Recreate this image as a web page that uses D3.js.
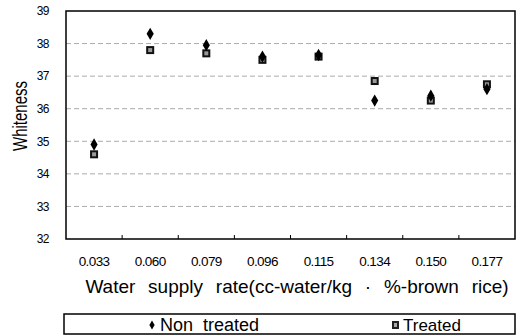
<!DOCTYPE html>
<html>
<head>
<meta charset="utf-8">
<style>
  body { margin: 0; background: #fff; }
  svg text { font-family: Arial, "Liberation Sans", sans-serif; fill: #000; }
  .grid line { stroke: #aaa; stroke-dasharray: 5,3; stroke-width: 1; }
</style>
</head>
<body>
<script src="https://d3js.org/d3.v7.min.js"></script>
<script>
var rates = ["0.033", "0.060", "0.079", "0.096", "0.115", "0.134", "0.150", "0.177"];
var nonTreated = [34.9, 38.3, 37.95, 37.6, 37.65, 36.25, 36.4, 36.6];
var treated = [34.6, 37.8, 37.7, 37.5, 37.6, 36.85, 36.25, 36.75];
var yTicks = [32, 33, 34, 35, 36, 37, 38, 39];

var margin = {top: 11, right: 10, bottom: 97, left: 66},
    width = 525 - margin.left - margin.right,
    height = 336 - margin.top - margin.bottom;

var svg = d3.select("body").append("svg")
    .attr("width", 525).attr("height", 336);
var g = svg.append("g")
    .attr("transform", "translate(" + margin.left + "," + margin.top + ")");

var x = d3.scaleBand().domain(rates).range([0, width]);
var y = d3.scaleLinear().domain([32, 39]).range([height, 0]);

// gridlines
g.append("g").attr("class", "grid")
  .selectAll("line").data(yTicks.slice(1, -1)).enter().append("line")
  .attr("x1", 0).attr("x2", width)
  .attr("y1", function(d) { return y(d); }).attr("y2", function(d) { return y(d); });

// plot frame
g.append("rect").attr("width", width).attr("height", height)
  .attr("fill", "none").attr("stroke", "#000").attr("stroke-width", 1.5);

// y axis
var ya = g.append("g").call(d3.axisLeft(y).tickValues(yTicks).tickFormat(d3.format("d")).tickSize(0).tickPadding(17));
ya.select(".domain").remove();
ya.selectAll("text").style("font-size", "12px").attr("letter-spacing", "-0.5px");

// x axis: ticks between categories
var xa = g.append("g").attr("transform", "translate(0," + height + ")")
  .call(d3.axisBottom(x).tickSize(0).tickPadding(17));
xa.select(".domain").remove();
xa.selectAll("text").style("font-size", "13.5px").attr("letter-spacing", "-0.6px");
g.append("g").selectAll("line").data(rates.slice(1)).enter().append("line")
  .attr("x1", function(d) { return x(d); }).attr("x2", function(d) { return x(d); })
  .attr("y1", height).attr("y2", height - 4)
  .attr("stroke", "#000");

// labels
svg.append("text").attr("transform", "translate(27,116) rotate(-90)")
  .attr("text-anchor", "middle").style("font-size", "20px")
  .attr("textLength", 70).attr("lengthAdjust", "spacingAndGlyphs")
  .text("Whiteness");
svg.append("text").attr("x", 297).attr("y", 293).attr("text-anchor", "middle")
  .style("font-size", "19px").style("word-spacing", "7.5px")
  .text("Water supply rate(cc-water/kg \u00b7 %-brown rice)");

var diamond = d3.symbol().type(d3.symbolDiamond).size(44);

function drawSquare(sel, cx, cy) {
  sel.append("rect").attr("x", cx - 4).attr("y", cy - 4).attr("width", 8).attr("height", 8).attr("fill", "#111");
  sel.append("rect").attr("x", cx - 2).attr("y", cy - 2).attr("width", 4).attr("height", 4).attr("fill", "#999");
}

// treated squares
var sq = g.append("g");
treated.forEach(function(v, i) {
  drawSquare(sq, x(rates[i]) + x.bandwidth() / 2, y(v));
});

// non treated diamonds
g.append("g").selectAll("path").data(nonTreated).enter().append("path")
  .attr("d", diamond)
  .attr("transform", function(d, i) { return "translate(" + (x(rates[i]) + x.bandwidth() / 2) + "," + y(d) + ")"; })
  .attr("fill", "#000");

// legend
var lg = svg.append("g");
lg.append("rect").attr("x", 64).attr("y", 314).attr("width", 451).attr("height", 20)
  .attr("fill", "none").attr("stroke", "#000").attr("stroke-width", 1.5);
lg.append("path").attr("d", d3.symbol().type(d3.symbolDiamond).size(24))
  .attr("transform", "translate(152,325)").attr("fill", "#000");
lg.append("text").attr("x", 160).attr("y", 331).style("font-size", "18px")
  .style("word-spacing", "5px").text("Non treated");
var ls = lg.append("g");
ls.append("rect").attr("x", 392).attr("y", 321).attr("width", 7).attr("height", 8).attr("fill", "#222");
ls.append("rect").attr("x", 394).attr("y", 323).attr("width", 3).attr("height", 4).attr("fill", "#aaa");
lg.append("text").attr("x", 403).attr("y", 331).style("font-size", "17px").text("Treated");
</script>
</body>
</html>
